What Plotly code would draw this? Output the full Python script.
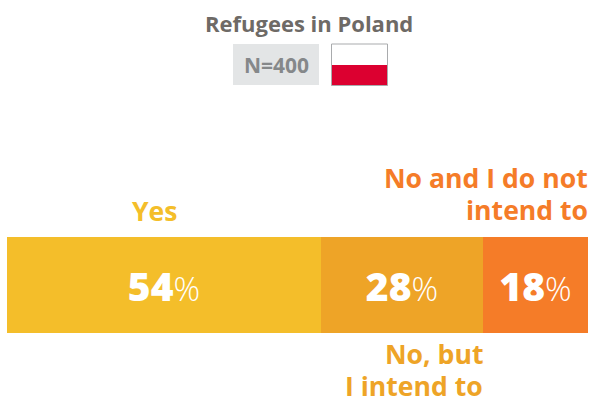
import plotly.graph_objects as go

# Survey shares for one stacked bar
answers = ["Yes", "No, but<br>I intend to", "No and I do not<br>intend to"]
shares = [54, 28, 18]
bar_colors = ["#F4BE2A", "#EEA427", "#F57C28"]
title_text = "Refugees in Poland"
sample_text = "N=400"
FONT = "Open Sans"
W, H = 590, 399
L, R, T, B = 7, 2, 237, 66
LABEL_SIZE = 26.6

def px(x):
    return (x - L) / (W - L - R)

def py(y):
    return (H - B - y) / (H - T - B)

fig = go.Figure()
for answer, share, color in zip(answers, shares, bar_colors):
    fig.add_trace(go.Bar(
        x=[share], y=["Refugees"], orientation="h", name=answer,
        marker=dict(color=color, line=dict(width=0)),
        text=[f'<span style="font-weight:800">{share}</span>'
              f'<span style="font-weight:300;font-size:33px">%</span>'],
        textposition="inside", insidetextanchor="middle", textangle=0,
        constraintext="none",
        textfont=dict(family=FONT, size=39, color="white"),
        hoverinfo="skip",
    ))

def label_lines(answer, x, centers, anchor, color, shift=0):
    # One annotation per line keeps the line spacing tight
    return [
        dict(x=x, y=py(cy), xref="x", yref="paper", text=f"<b>{line}</b>",
             xanchor=anchor, yanchor="middle", showarrow=False,
             xshift=shift, borderpad=0, borderwidth=0,
             font=dict(family=FONT, size=LABEL_SIZE, color=color))
        for line, cy in zip(answer.split("<br>"), centers)
    ]

# Answer labels sit above or below their own segment
cum1, cum2 = shares[0], shares[0] + shares[1]
annotations = (
    label_lines(answers[0], cum1 / 2, [211], "center", bar_colors[0], shift=-9)
    + label_lines(answers[1], cum2, [354, 385.5], "right", bar_colors[1])
    + label_lines(answers[2], 100, [178, 210], "right", bar_colors[2])
    + [
        dict(x=px(309), y=py(23), xref="paper", yref="paper", text=f"<b>{title_text}</b>",
             xanchor="center", yanchor="middle", showarrow=False,
             font=dict(family=FONT, size=22, color="#6E6A66")),
        dict(x=px(276), y=py(65), xref="paper", yref="paper", text=f"<b>{sample_text}</b>",
             xanchor="center", yanchor="middle", showarrow=False,
             font=dict(family=FONT, size=21, color="#85888A")),
    ]
)

def rect(x0, y0, x1, y1, fill, line=None):
    return dict(type="rect", xref="paper", yref="paper",
                x0=px(x0), x1=px(x1), y0=py(y1), y1=py(y0),
                fillcolor=fill, line=dict(width=1 if line else 0, color=line))

shapes = [
    rect(233, 44, 319, 85, "#E3E5E6"),
    rect(331.5, 65, 387.5, 85.5, "#DC0030"),
    rect(331.5, 44, 387.5, 85.5, "rgba(0,0,0,0)", "#A9ABAD"),
]

fig.update_layout(
    width=W, height=H, barmode="stack", bargap=0, showlegend=False,
    margin=dict(l=L, r=R, t=T, b=B, pad=0),
    paper_bgcolor="white", plot_bgcolor="white",
    xaxis=dict(range=[0, 100], visible=False, fixedrange=True),
    yaxis=dict(visible=False, fixedrange=True),
    annotations=annotations, shapes=shapes,
)
fig.write_html("out.html", config={"displayModeBar": False})
